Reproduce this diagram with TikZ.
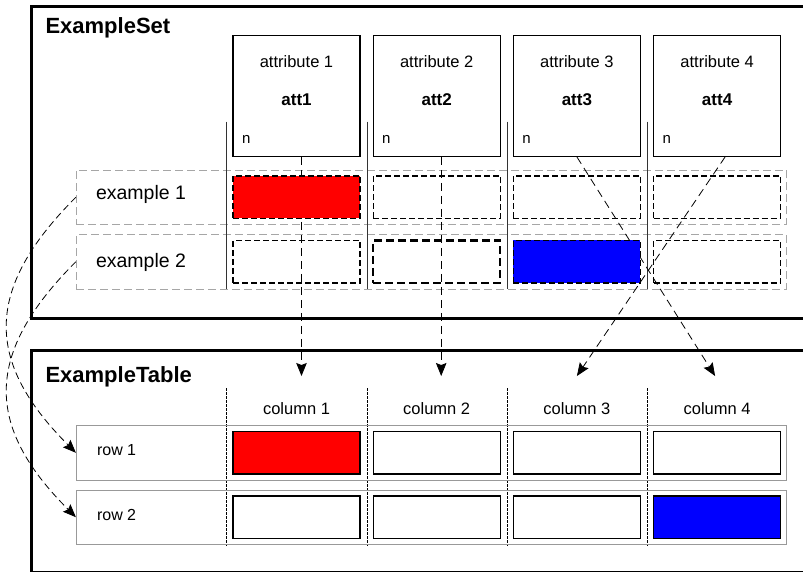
\documentclass[tikz,border=0pt]{standalone}
\usepackage{fontspec}
\setmainfont{Liberation Sans}
\usetikzlibrary{arrows.meta}
\tikzset{x=1pt, y=1pt,
         frame/.style={line width=3pt, line join=miter}, % outer boxes of set and table
         title/.style={anchor=base west, font=\fontsize{22}{26}\selectfont\bfseries},
         attbox/.style={draw, line width=1.3pt, minimum width=127pt, minimum height=121pt},
         attname/.style={anchor=base, font=\fontsize{16.5}{20}\selectfont},
         attid/.style={anchor=base, font=\fontsize{17}{20}\selectfont\bfseries},
         attn/.style={anchor=base west, font=\fontsize{15}{18}\selectfont},
         exlabel/.style={anchor=base west, font=\fontsize{19.5}{23}\selectfont},
         rowlabel/.style={anchor=base west, font=\fontsize{16}{19}\selectfont},
         colname/.style={anchor=base, font=\fontsize{16.5}{20}\selectfont},
         setrow/.style={draw=black!35, line width=0.8pt, dash pattern=on 8pt off 4pt,
           minimum width=710pt, minimum height=54.5pt},
         tabrow/.style={draw=black!40, line width=0.8pt,
           minimum width=710pt, minimum height=54.5pt},
         setcell/.style={draw, line width=1.3pt, dash pattern=on 6pt off 3pt,
           minimum width=127pt, minimum height=42.5pt},
         tabcell/.style={draw, line width=1.3pt, minimum width=127pt, minimum height=42.5pt},
         sep/.style={draw=black!80, line width=0.8pt},
         colsep/.style={draw, line width=0.7pt, dash pattern=on 2.5pt off 1.5pt},
         map/.style={draw, line width=0.8pt, dash pattern=on 8pt off 5pt, % attribute to column
           -{Stealth[length=13pt, width=10.5pt, inset=2pt]}},
         link/.style={draw, line width=0.8pt, dash pattern=on 7pt off 4pt, % example to row
           -{Stealth[length=13pt, width=10.5pt, inset=2pt]}}}

\begin{document}
\begin{tikzpicture}
  \useasboundingbox (0,0) rectangle (803,-572);

  % ExampleSet
  \draw[frame] (806,-6.7) -- (31.7,-6.7) -- (31.7,-318.7) -- (806,-318.7);
  \node[title] (settitle) at (42,-34) {ExampleSet};

  \node[attbox] (a1) at (296.5,-95.8) {};
  \node[attbox] (a2) at (436.7,-95.8) {};
  \node[attbox] (a3) at (576.9,-95.8) {};
  \node[attbox] (a4) at (717.1,-95.8) {};

  \node[attname] (a1name) at (296.5,-68) {attribute 1};
  \node[attname] (a2name) at (436.7,-68) {attribute 2};
  \node[attname] (a3name) at (576.9,-68) {attribute 3};
  \node[attname] (a4name) at (717.1,-68) {attribute 4};
  \node[attid] (a1id) at (296.5,-106) {att1};
  \node[attid] (a2id) at (436.7,-106) {att2};
  \node[attid] (a3id) at (576.9,-106) {att3};
  \node[attid] (a4id) at (717.1,-106) {att4};
  \node[attn] (a1n) at (238.5,-144) {n};
  \node[attn] (a2n) at (378.7,-144) {n};
  \node[attn] (a3n) at (518.9,-144) {n};
  \node[attn] (a4n) at (659.1,-144) {n};

  \node[setrow] (s1) at (431.3,-197.2) {};
  \node[setrow] (s2) at (431.3,-261.7) {};
  \node[exlabel] (e1) at (92.5,-200) {example 1};
  \node[exlabel] (e2) at (92.5,-267) {example 2};

  \draw[sep] (226.7,-121.7) -- (226.7,-289);
  \draw[sep] (366.9,-121.7) -- (366.9,-289);
  \draw[sep] (507.1,-121.7) -- (507.1,-289);
  \draw[sep] (647.3,-121.7) -- (647.3,-289);

  % ExampleTable
  \draw[frame] (806,-350.3) -- (31.7,-350.3) -- (31.7,-572.5) -- (806,-572.5);
  \node[title] (tabtitle) at (42,-382.5) {ExampleTable};

  \node[colname] (c1) at (296.5,-414.5) {column 1};
  \node[colname] (c2) at (436.7,-414.5) {column 2};
  \node[colname] (c3) at (576.9,-414.5) {column 3};
  \node[colname] (c4) at (717.1,-414.5) {column 4};

  \draw[colsep] (226.7,-388.3) -- (226.7,-546);
  \draw[colsep] (366.9,-388.3) -- (366.9,-546);
  \draw[colsep] (507.1,-388.3) -- (507.1,-546);
  \draw[colsep] (647.3,-388.3) -- (647.3,-546);

  \node[tabrow] (t1) at (431.3,-452.8) {};
  \node[tabrow] (t2) at (431.3,-517.2) {};
  \node[rowlabel] (r1) at (93.5,-455) {row 1};
  \node[rowlabel] (r2) at (93.5,-520) {row 2};

  % mappings
  \draw[map] ([xshift=5pt]a1.south) -- ([xshift=5pt, yshift=23pt]c1.north);
  \draw[map] ([xshift=4.5pt]a2.south) -- ([xshift=4.5pt, yshift=23pt]c2.north);
  \draw[map] (a3.south) -- ([xshift=-2pt, yshift=23pt]c4.north);
  \draw[map] ([xshift=8pt]a4.south) -- ([yshift=23pt]c3.north);
  \draw[link] (s1.west) to[out=225, in=135, looseness=1.3] (t1.west);
  \draw[link] (s2.west) to[out=225, in=135, looseness=1.3] (t2.west);

  % cells
  \node[setcell, fill=red] (s11) at (a1 |- s1) {};
  \node[setcell] (s12) at (a2 |- s1) {};
  \node[setcell] (s13) at (a3 |- s1) {};
  \node[setcell] (s14) at (a4 |- s1) {};
  \node[setcell] (s21) at (a1 |- s2) {};
  \node[setcell, line width=2.5pt, dash pattern=on 8pt off 4pt] (s22) at (a2 |- s2) {};
  \node[setcell, fill=blue] (s23) at (a3 |- s2) {};
  \node[setcell] (s24) at (a4 |- s2) {};

  \node[tabcell, fill=red] (t11) at (a1 |- t1) {};
  \node[tabcell] (t12) at (a2 |- t1) {};
  \node[tabcell] (t13) at (a3 |- t1) {};
  \node[tabcell] (t14) at (a4 |- t1) {};
  \node[tabcell] (t21) at (a1 |- t2) {};
  \node[tabcell] (t22) at (a2 |- t2) {};
  \node[tabcell] (t23) at (a3 |- t2) {};
  \node[tabcell, fill=blue] (t24) at (a4 |- t2) {};
\end{tikzpicture}
\end{document}
